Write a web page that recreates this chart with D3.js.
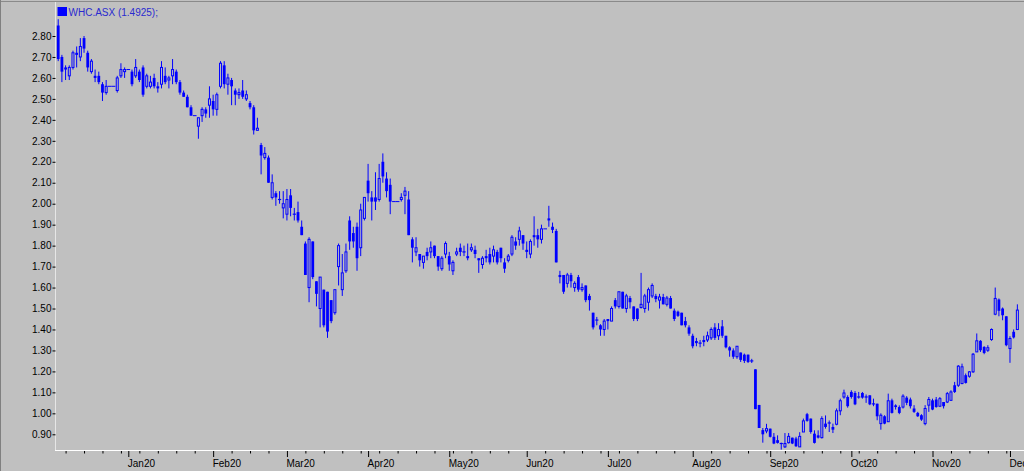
<!DOCTYPE html>
<html><head><meta charset="utf-8">
<script src="https://cdn.jsdelivr.net/npm/d3@7"></script>
<style>
html,body{margin:0;padding:0;background:#c0c0c0;overflow:hidden}
svg{display:block}
text{font-family:"Liberation Sans",Arial,sans-serif}
</style>
</head><body>
<svg id="chart" width="1024" height="471"></svg>
<script>
// ---------- data ----------
const ticker = "WHC.ASX";
const lastValue = "1.4925";
const startDate = [2019, 11, 5];   // 5 Dec 2019 (first trading weekday shown)
const endDate = [2020, 11, 3];     // 3 Dec 2020
const monthLabels = ["Jan20","Feb20","Mar20","Apr20","May20","Jun20","Jul20","Aug20","Sep20","Oct20","Nov20","Dec20"];
const yTickValues = [0.90,1.00,1.10,1.20,1.30,1.40,1.50,1.60,1.70,1.80,1.90,2.00,2.10,2.20,2.30,2.40,2.50,2.60,2.70,2.80];

const openP = [
2.85,2.70,2.65,2.61,2.65,2.72,2.70,2.79,2.72,2.63,
2.61,2.61,2.57,2.53,2.56,2.56,2.54,2.61,2.63,2.64,
2.63,2.61,2.63,2.65,2.56,2.56,2.60,2.56,2.57,2.61,
2.59,2.61,2.63,2.58,2.53,2.51,2.46,2.42,2.37,2.42,
2.45,2.47,2.49,2.45,2.56,2.66,2.57,2.59,2.54,2.52,
2.54,2.50,2.48,2.46,2.35,2.28,2.22,2.22,2.03,2.05,
2.02,1.98,1.95,2.04,1.95,1.96,1.89,1.81,1.60,1.82,
1.63,1.50,1.59,1.58,1.54,1.48,1.70,1.59,1.68,1.92,
1.86,1.89,1.79,1.93,2.11,2.03,2.03,2.02,2.20,2.12,
2.09,2.01,2.01,2.02,2.04,2.02,1.83,1.77,1.76,1.72,
1.77,1.77,1.80,1.75,1.69,1.76,1.75,1.68,1.76,1.79,
1.77,1.75,1.78,1.78,1.74,1.71,1.75,1.76,1.75,1.77,
1.79,1.72,1.73,1.76,1.82,1.83,1.85,1.78,1.76,1.85,
1.85,1.83,1.88,1.93,1.89,1.87,1.66,1.66,1.62,1.66,
1.60,1.65,1.59,1.61,1.56,1.48,1.45,1.42,1.40,1.45,
1.44,1.54,1.51,1.58,1.50,1.55,1.51,1.50,1.505,1.50,
1.53,1.56,1.56,1.54,1.555,1.52,1.55,1.49,1.485,1.48,
1.44,1.41,1.37,1.345,1.335,1.35,1.35,1.36,1.41,1.37,
1.415,1.37,1.315,1.30,1.27,1.29,1.28,1.28,1.25,1.21,
1.04,0.92,0.916,0.927,0.888,0.872,0.856,0.84,0.86,0.884,
0.88,0.84,0.911,0.996,0.975,0.903,0.895,0.884,0.951,0.954,
0.935,0.948,1.012,1.078,1.078,1.102,1.097,1.078,1.097,1.078,
1.086,1.046,1.046,0.951,0.986,0.96,1.062,1.038,1.03,1.03,
1.075,1.066,1.023,1.002,0.991,0.951,1.039,1.062,1.066,1.034,
1.054,1.054,1.062,1.134,1.134,1.142,1.182,1.177,1.198,1.293,
1.346,1.317,1.301,1.352,1.473,1.543,1.50,1.463,1.309,1.389,
1.40];

const highP = [
2.88,2.71,2.66,2.66,2.73,2.75,2.79,2.80,2.73,2.69,
2.64,2.63,2.58,2.59,2.56,2.56,2.61,2.67,2.65,2.64,
2.64,2.69,2.64,2.66,2.62,2.61,2.62,2.58,2.68,2.65,
2.61,2.69,2.64,2.59,2.54,2.52,2.47,2.42,2.41,2.46,
2.46,2.56,2.52,2.53,2.68,2.68,2.62,2.60,2.55,2.55,
2.59,2.54,2.49,2.47,2.41,2.29,2.27,2.23,2.14,2.06,
2.06,2.06,2.07,2.07,1.98,2.01,1.92,1.82,1.84,1.82,
1.63,1.65,1.59,1.58,1.54,1.59,1.81,1.76,1.81,1.94,
1.89,1.91,2.00,2.03,2.19,2.06,2.15,2.19,2.24,2.15,
2.12,2.01,2.01,2.05,2.08,2.06,1.84,1.84,1.76,1.75,
1.79,1.82,1.80,1.75,1.75,1.82,1.77,1.73,1.79,1.81,
1.80,1.81,1.81,1.80,1.74,1.75,1.78,1.79,1.80,1.78,
1.79,1.74,1.76,1.85,1.84,1.89,1.85,1.82,1.83,1.94,
1.88,1.90,1.88,1.99,1.91,1.88,1.68,1.66,1.67,1.67,
1.63,1.66,1.62,1.61,1.57,1.48,1.46,1.425,1.45,1.45,
1.51,1.55,1.58,1.58,1.57,1.56,1.51,1.50,1.67,1.57,
1.60,1.62,1.57,1.57,1.57,1.56,1.56,1.50,1.49,1.48,
1.46,1.42,1.38,1.36,1.35,1.37,1.39,1.41,1.43,1.43,
1.445,1.37,1.32,1.31,1.32,1.29,1.285,1.28,1.26,1.21,
1.04,0.93,0.95,0.927,0.906,0.895,0.86,0.906,0.906,0.884,
0.888,0.91,0.975,1.002,0.975,0.919,0.919,0.986,0.99,0.966,
0.951,1.023,1.07,1.113,1.086,1.11,1.106,1.102,1.102,1.09,
1.086,1.07,1.046,1.0,0.991,1.094,1.07,1.043,1.038,1.091,
1.082,1.075,1.039,1.007,0.996,1.039,1.078,1.07,1.078,1.078,
1.054,1.102,1.11,1.15,1.23,1.237,1.19,1.202,1.288,1.381,
1.349,1.32,1.325,1.405,1.60,1.548,1.505,1.463,1.368,1.40,
1.52];

const lowP = [
2.68,2.58,2.59,2.59,2.64,2.65,2.68,2.72,2.63,2.62,
2.58,2.57,2.49,2.52,2.56,2.56,2.53,2.60,2.60,2.64,
2.56,2.60,2.58,2.51,2.55,2.55,2.55,2.53,2.55,2.57,
2.55,2.57,2.57,2.52,2.51,2.46,2.42,2.42,2.31,2.39,
2.41,2.41,2.42,2.42,2.55,2.55,2.52,2.47,2.47,2.50,
2.50,2.49,2.45,2.33,2.35,2.14,2.21,2.10,2.02,1.99,
2.00,1.93,1.92,1.94,1.92,1.91,1.85,1.66,1.53,1.64,
1.51,1.41,1.41,1.36,1.43,1.47,1.61,1.56,1.67,1.78,
1.79,1.68,1.75,1.92,2.01,1.92,1.97,2.01,2.10,2.03,
1.95,2.01,2.01,2.01,1.95,1.85,1.72,1.75,1.70,1.69,
1.73,1.74,1.74,1.68,1.68,1.74,1.68,1.66,1.75,1.75,
1.75,1.73,1.77,1.74,1.67,1.69,1.72,1.71,1.72,1.71,
1.72,1.67,1.72,1.75,1.78,1.80,1.78,1.74,1.74,1.80,
1.79,1.81,1.88,1.89,1.86,1.72,1.62,1.57,1.60,1.60,
1.58,1.58,1.58,1.53,1.49,1.40,1.42,1.37,1.37,1.40,
1.44,1.50,1.50,1.50,1.48,1.50,1.44,1.44,1.50,1.48,
1.49,1.55,1.53,1.50,1.52,1.51,1.50,1.44,1.46,1.42,
1.41,1.37,1.31,1.32,1.315,1.32,1.34,1.35,1.35,1.35,
1.36,1.31,1.27,1.26,1.26,1.245,1.24,1.24,1.24,1.02,
0.93,0.86,0.905,0.885,0.853,0.856,0.827,0.835,0.856,0.853,
0.84,0.84,0.911,0.96,0.903,0.856,0.88,0.88,0.927,0.911,
0.906,0.943,0.991,1.07,1.027,1.07,1.039,1.07,1.07,1.05,
1.039,1.034,0.967,0.922,0.948,0.96,0.999,1.018,0.996,1.023,
1.039,1.023,1.002,0.983,0.964,0.943,1.007,1.015,1.027,1.03,
1.023,1.049,1.059,1.097,1.126,1.139,1.142,1.17,1.193,1.293,
1.293,1.282,1.293,1.346,1.468,1.463,1.444,1.32,1.241,1.357,
1.397];

const closeP = [
2.69,2.63,2.64,2.65,2.72,2.71,2.75,2.74,2.65,2.68,
2.60,2.58,2.53,2.56,2.56,2.56,2.60,2.64,2.64,2.64,
2.57,2.65,2.59,2.52,2.61,2.58,2.56,2.55,2.65,2.58,
2.60,2.64,2.58,2.53,2.51,2.46,2.42,2.42,2.41,2.45,
2.43,2.50,2.45,2.52,2.67,2.57,2.60,2.56,2.52,2.53,
2.51,2.52,2.46,2.35,2.36,2.23,2.24,2.10,2.10,2.03,
2.02,2.00,2.02,1.98,1.95,1.92,1.85,1.66,1.83,1.65,
1.57,1.65,1.42,1.39,1.44,1.59,1.80,1.67,1.77,1.82,
1.82,1.74,1.97,2.03,2.05,2.01,2.01,2.12,2.13,2.06,
2.01,2.01,2.01,2.03,2.06,1.85,1.79,1.79,1.73,1.75,
1.75,1.79,1.75,1.70,1.74,1.81,1.71,1.72,1.77,1.77,
1.77,1.74,1.79,1.76,1.73,1.74,1.74,1.72,1.78,1.72,
1.74,1.69,1.75,1.84,1.80,1.87,1.81,1.77,1.82,1.84,
1.83,1.88,1.88,1.92,1.875,1.72,1.65,1.58,1.66,1.63,
1.62,1.59,1.60,1.54,1.54,1.41,1.445,1.40,1.44,1.44,
1.50,1.51,1.58,1.50,1.56,1.53,1.45,1.45,1.52,1.56,
1.59,1.61,1.545,1.555,1.52,1.55,1.50,1.45,1.465,1.42,
1.42,1.38,1.32,1.335,1.335,1.34,1.37,1.40,1.36,1.40,
1.37,1.315,1.30,1.27,1.32,1.255,1.25,1.245,1.25,1.02,
0.93,0.90,0.927,0.888,0.856,0.859,0.856,0.856,0.89,0.856,
0.843,0.89,0.964,0.964,0.911,0.859,0.884,0.975,0.935,0.954,
0.922,1.012,1.06,1.097,1.034,1.078,1.043,1.078,1.075,1.078,
1.043,1.045,0.986,0.991,0.951,1.06,1.002,1.03,1.002,1.082,
1.05,1.034,1.007,0.986,0.97,1.023,1.066,1.018,1.03,1.07,
1.034,1.094,1.102,1.102,1.225,1.222,1.145,1.198,1.282,1.346,
1.301,1.288,1.313,1.40,1.548,1.489,1.468,1.325,1.357,1.362,
1.4925];

// ---------- build ----------
const days = d3.timeDay.range(new Date(...startDate), d3.timeDay.offset(new Date(...endDate), 1))
  .filter(d => d.getDay() !== 0 && d.getDay() !== 6);
const data = days.map((d, i) => ({date: d, i, o: openP[i], h: highP[i], l: lowP[i], c: closeP[i]}))
  .filter(d => d.o !== undefined);

const W = 1024, H = 471;
const left = 56, bottom = 450;
const BLUE = "#0000ff";

const x = d3.scaleLinear().domain([-0.6, 261.8]).range([left, W]);
const y = d3.scaleLinear().domain([0.90, 2.80]).range([434.3, 36]);
const step = x(1) - x(0);

const svg = d3.select("#chart");
svg.append("rect").attr("width", W).attr("height", H).attr("fill", "#c0c0c0");

// outer sunken border
svg.append("line").attr("x1", 0).attr("x2", W).attr("y1", 1.5).attr("y2", 1.5)
  .attr("stroke", "#8a8a8a").attr("stroke-width", 1.2);
svg.append("line").attr("x1", 0.5).attr("x2", 0.5).attr("y1", 0).attr("y2", H)
  .attr("stroke", "#808080").attr("stroke-width", 1);

// axis lines
svg.append("line").attr("x1", left - 0.5).attr("x2", left - 0.5).attr("y1", 2).attr("y2", bottom)
  .attr("stroke", "#e6e6e6").attr("stroke-width", 1);
svg.append("line").attr("x1", left - 1).attr("x2", W).attr("y1", bottom + 0.5).attr("y2", bottom + 0.5)
  .attr("stroke", "#ffffff").attr("stroke-width", 1);

// y axis
const yAxis = d3.axisLeft(y).tickValues(yTickValues).tickSize(3).tickPadding(1)
  .tickFormat(d3.format(".2f"));
const gy = svg.append("g").attr("transform", `translate(${left - 0.5},0)`).call(yAxis);
gy.select(".domain").remove();
gy.selectAll("line").attr("stroke", "#000");
gy.selectAll("text").attr("font-size", 10).attr("fill", "#000");

// x axis ticks: month starts (major) and Mondays (minor)
const monthIdx = [];
data.forEach((d, k) => {
  if (k > 0 && d.date.getMonth() !== data[k - 1].date.getMonth()) monthIdx.push(d.i);
});
const mondayIdx = data.filter(d => d.date.getDay() === 1 && !monthIdx.includes(d.i)).map(d => d.i);

const gxMinor = svg.append("g").attr("transform", `translate(0,${bottom + 1})`)
  .call(d3.axisBottom(x).tickValues(mondayIdx).tickSize(2.5).tickFormat(""));
gxMinor.select(".domain").remove();
gxMinor.selectAll("line").attr("stroke", "#000");

const gxMajor = svg.append("g").attr("transform", `translate(0,${bottom + 1})`)
  .call(d3.axisBottom(x).tickValues(monthIdx).tickSize(6).tickPadding(3)
    .tickFormat((d, k) => monthLabels[k]));
gxMajor.select(".domain").remove();
gxMajor.selectAll("line").attr("stroke", "#000");
gxMajor.selectAll("text").attr("font-size", 10).attr("fill", "#000")
  .attr("text-anchor", "start").attr("x", -1);

// candles
const g = svg.append("g");
data.forEach(d => {
  const cx = x(d.i);
  const flat = d.h === d.l;
  if (flat) {
    g.append("line").attr("x1", cx - step / 2).attr("x2", cx + step / 2)
      .attr("y1", y(d.c)).attr("y2", y(d.c)).attr("stroke", BLUE).attr("stroke-width", 1);
    return;
  }
  g.append("line").attr("x1", cx).attr("x2", cx).attr("y1", y(d.h)).attr("y2", y(d.l))
    .attr("stroke", BLUE).attr("stroke-width", 1);
  const top = y(Math.max(d.o, d.c)), bot = y(Math.min(d.o, d.c));
  if (bot - top < 1.2) {
    g.append("line").attr("x1", cx - 1.6).attr("x2", cx + 1.6)
      .attr("y1", y(d.c)).attr("y2", y(d.c)).attr("stroke", BLUE).attr("stroke-width", 1.2);
  } else if (d.c > d.o) {
    g.append("rect").attr("x", cx - 1).attr("width", 2).attr("y", top).attr("height", bot - top)
      .attr("fill", "#c0c0c0").attr("stroke", BLUE).attr("stroke-width", 1);
  } else {
    g.append("rect").attr("x", cx - 1.4).attr("width", 2.8).attr("y", top).attr("height", bot - top)
      .attr("fill", BLUE);
  }
});

// legend
svg.append("rect").attr("x", 57.5).attr("y", 7).attr("width", 9.5).attr("height", 9).attr("fill", BLUE);
svg.append("text").attr("x", 68.5).attr("y", 15.5).attr("font-size", 10).attr("fill", "#2a2ad0")
  .text(`${ticker} (${lastValue});`);
</script>
</body></html>
